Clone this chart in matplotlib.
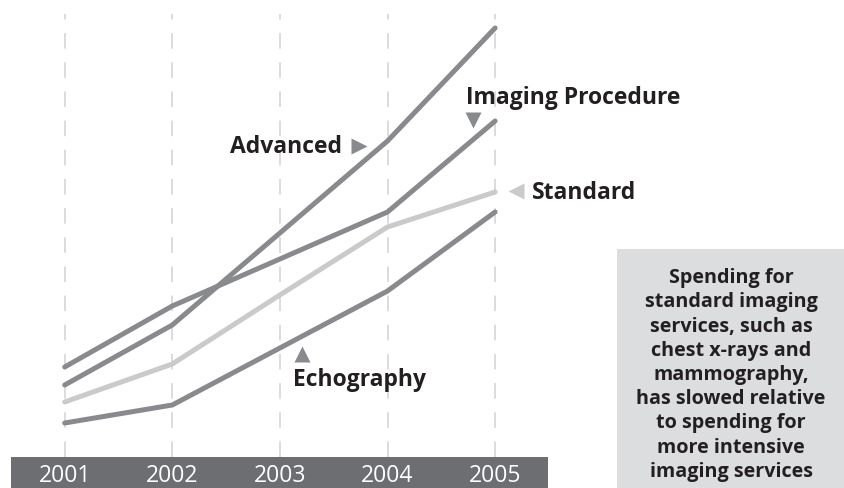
"""
Imaging spending trends 2001-2005 (index, relative levels)
"""
import matplotlib
matplotlib.use('Agg')
import matplotlib.pyplot as plt
from matplotlib.patches import Rectangle

W, H = 844, 489

years = [2001, 2002, 2003, 2004, 2005]
year_labels = ['2001', '2002', '2003', '2004', '2005']

# relative spending level (arbitrary index)
advanced = [103, 163, 255, 347, 460]
imaging_procedure = [121, 182, 229, 276, 367]
standard = [86, 124, 193, 261, 296]
echography = [65, 83, 140, 197, 276]

note = ("Spending for\nstandard imaging\nservices, such as\nchest x-rays and\n"
        "mammography,\nhas slowed relative\nto spending for\nmore intensive\n"
        "imaging services")

DARK = '#898a8d'
LIGHT = '#c9cacc'
TEXT = '#231f20'
BAR = '#6d6e71'
BOX = '#dcdddf'
GRID = '#dcdcdc'

plt.rcParams['font.family'] = ['Open Sans', 'DejaVu Sans']

fig = plt.figure(figsize=(W / 100, H / 100), dpi=100)
ax = fig.add_axes([0, 0, 1, 1])
ax.set_axis_off()

# x: 2001 -> 64.7px, 107.6px per year ; y: value = 489 - pixel row
step = 107.6
ax.set_xlim(2001 - 64.7 / step, 2001 + (W - 64.7) / step)
ax.set_ylim(0, H)


def fx(px):
    return px / W


def fy(py):
    return 1 - py / H


# dashed vertical gridlines
for yr in years:
    ax.plot([yr, yr], [H - 458, H - 15], color=GRID, lw=1.4,
            dashes=(8, 7), zorder=1)

# series
for vals, col in [(echography, DARK), (standard, LIGHT),
                  (imaging_procedure, DARK), (advanced, DARK)]:
    ax.plot(years, vals, color=col, lw=3.6, solid_capstyle='round',
            solid_joinstyle='round', zorder=3)

# bottom year band
ax.add_patch(Rectangle((fx(11), 0), fx(548) - fx(11), fy(458), transform=ax.transAxes,
                       facecolor=BAR, edgecolor='none', zorder=4))
for yr, lab in zip(years, year_labels):
    ax.text(yr, 1, lab, color='white', fontsize=16.5, ha='center', va='bottom',
            zorder=5)

# note box
ax.add_patch(Rectangle((fx(617), 0), 1 - fx(617), fy(250), transform=ax.transAxes,
                       facecolor=BOX, edgecolor='none', zorder=4))
ax.text(fx(731), fy(375), note, transform=ax.transAxes, ha='center', va='center',
        fontsize=14.2, fontweight='bold', color=TEXT, linespacing=1.28, zorder=5)

# series labels with pointer triangles
lab_kw = dict(transform=ax.transAxes, fontsize=16.5, fontweight='bold', color=TEXT,
              va='center', zorder=5)
ax.text(fx(342), fy(147), 'Advanced', ha='right', **lab_kw)
ax.text(fx(466), fy(98), 'Imaging Procedure', ha='left', **lab_kw)
ax.text(fx(532), fy(193), 'Standard', ha='left', **lab_kw)
ax.text(fx(293), fy(380), 'Echography', ha='left', **lab_kw)

tri_kw = dict(transform=ax.transAxes, ms=11, ls='none', zorder=5, mec='none')
ax.plot(fx(359), fy(147), marker='>', color=DARK, **tri_kw)
ax.plot(fx(473), fy(121), marker='v', color=DARK, **tri_kw)
ax.plot(fx(516), fy(192), marker='<', color=LIGHT, **tri_kw)
ax.plot(fx(302), fy(355), marker='^', color=DARK, **tri_kw)

fig.savefig('out.png', dpi=100, facecolor='white')
plt.close(fig)
